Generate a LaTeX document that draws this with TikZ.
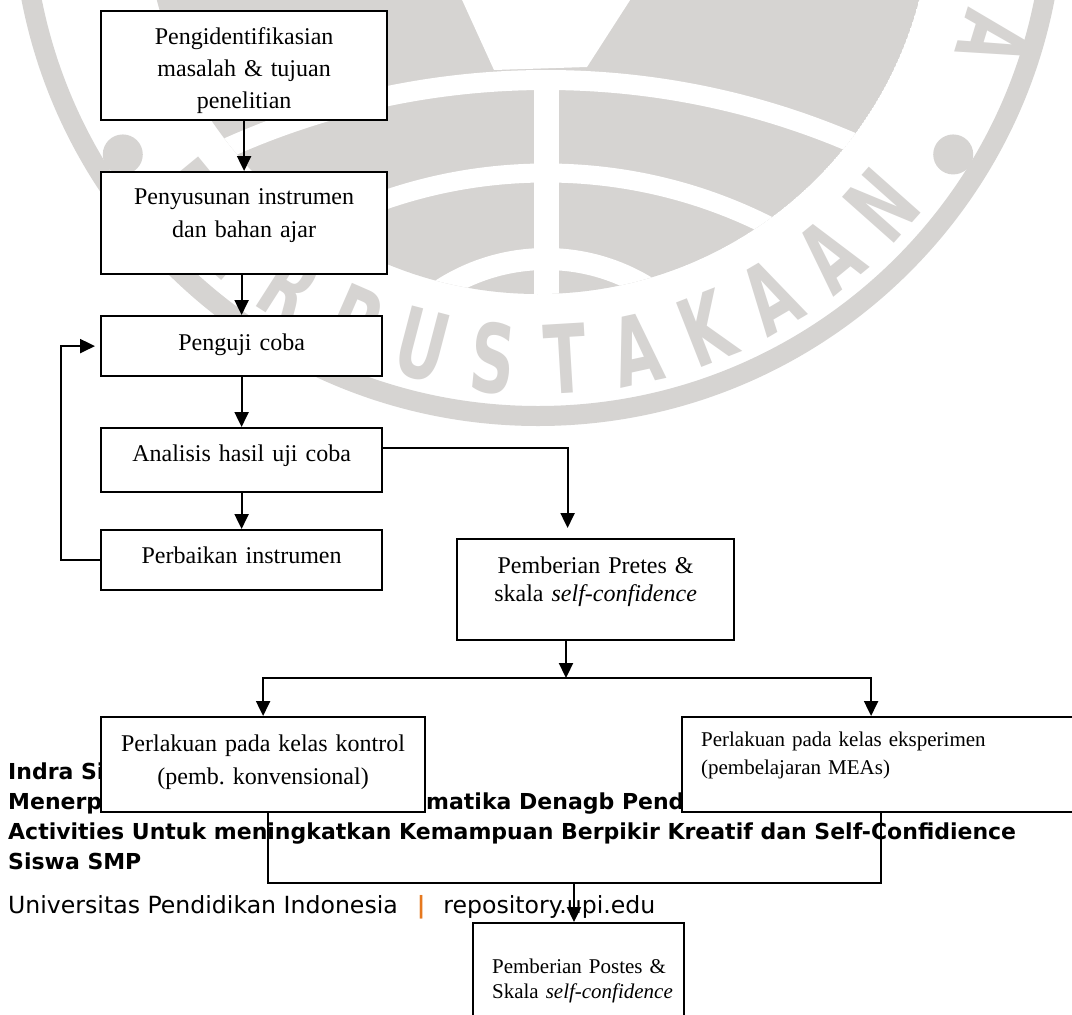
\documentclass[tikz,border=0pt]{standalone}
\usepackage{fontspec}
\setmainfont{Liberation Serif}
\newfontfamily\footfont{DejaVu Sans}
\newfontfamily\wmfont[FakeStretch=0.65]{DejaVu Sans}
\usetikzlibrary{positioning,calc,arrows.meta}
\definecolor{UpiOrange}{RGB}{230,120,30}
\definecolor{WmGray}{RGB}{214,212,210}
\tikzset{
  stepbox/.style={draw=black,fill=white,line width=2.2pt,inner sep=0pt,anchor=north west,
    align=center,font=\fontsize{24pt}{33pt}\selectfont},
  arr/.style={draw,line width=2.2pt,-{Triangle[length=15pt,width=14pt]}},
  link/.style={draw,line width=2.2pt},
  foot/.style={anchor=base west,inner sep=0pt,font=\footfont\bfseries\fontsize{22pt}{22pt}\selectfont},
  wmletter/.style={text=WmGray,inner sep=0pt,font=\wmfont\bfseries\fontsize{95pt}{95pt}\selectfont},
}

\begin{document}
\begin{tikzpicture}[x=1pt,y=-1pt]
\useasboundingbox (0,0) rectangle (1072,1015);
\fill[white] (0,0) rectangle (1072,1015);

% watermark of the library logo
\begin{scope}
  \clip (538,-100) circle[radius=394];
  \fill[WmGray] (538,-100) circle[radius=394];
  \fill[white] (453,-20) -- (494,70) -- (587,67) -- (643,-20) -- cycle;
  \draw[white,line width=20pt] (546,859) circle[radius=779];
  \draw[white,line width=19pt] (546,667) circle[radius=494];
  \draw[white,line width=22pt] (546,452) circle[radius=193];
  \fill[white] (534,80) rectangle (559,400);
\end{scope}
\draw[WmGray,line width=20pt] (538,-100) circle[radius=516];
\foreach \ch [count=\i from 0] in {P,E,R,P,U,S,T,A,K,A,A,N}{
  \pgfmathsetmacro\ang{140.6-9*\i}
  \node[wmletter,rotate=90-\ang] at ($(538,-100)+(\ang:460)$) {\ch};
}
\node[wmletter,rotate=-107] at ($(538,-100)+(17:478)$) {A};
\fill[WmGray] ($(538,-100)+(148.5:487)$) circle[radius=20];
\fill[WmGray] ($(538,-100)+(31.5:487)$) circle[radius=20];

% footer of the page
\node[foot] (nama) at (8,779) {Indra Si};
\node[foot] (judul) at (8,809) {Menerp};
\node[foot] (judulb) at (426,809) {matika Denagb Pend};
\node[foot] (judulc) at (8,839) {Activities Untuk meningkatkan Kemampuan Berpikir Kreatif dan Self-Confidience};
\node[foot] (judurd) at (8,869) {Siswa SMP};
\node[foot,font=\footfont\fontsize{23.6pt}{24pt}\selectfont] (univ) at (8,913)
  {Universitas Pendidikan Indonesia\hspace{19pt}\textcolor{UpiOrange}{\textbf{|}}\hspace{18pt}repository.upi.edu};

% steps
\node[stepbox,text width=286pt,text height=33pt,text depth=76pt,font=\fontsize{24pt}{32pt}\selectfont] (ident) at (100,10)
  {Pengidentifikasian\\ masalah \& tujuan\\ penelitian};
\node[stepbox,text width=286pt,text height=32pt,text depth=70pt] (susun) at (100,171)
  {Penyusunan instrumen\\ dan bahan ajar};
\node[stepbox,text width=281pt,text height=34pt,text depth=26pt] (uji) at (100,315) {Penguji coba};
\node[stepbox,text width=281pt,text height=33pt,text depth=31pt] (analisis) at (100,427) {Analisis hasil uji coba};
\node[stepbox,text width=281pt,text height=33pt,text depth=27pt] (perbaikan) at (100,529) {Perbaikan instrumen};
\node[stepbox,text width=277pt,text height=34pt,text depth=67pt,font=\fontsize{24pt}{28.5pt}\selectfont] (pretes) at (456,538)
  {Pemberian Pretes \&\\ skala \textit{self-confidence}};
\node[stepbox,text width=324pt,text height=34pt,text depth=61pt] (kontrol) at (100,716)
  {Perlakuan pada kelas kontrol\\ (pemb.\ konvensional)};
\node[stepbox,text width=414pt,text height=29pt,text depth=66pt,align=left,font=\fontsize{21pt}{28pt}\selectfont] (eksp) at (681,716)
  {\hspace*{19pt}Perlakuan pada kelas eksperimen\\ \hspace*{19pt}(pembelajaran MEAs)};
\node[stepbox,text width=211pt,text height=50pt,text depth=80pt,align=left,font=\fontsize{21pt}{25pt}\selectfont] (postes) at (472,922)
  {\hspace*{19pt}Pemberian Postes \&\\ \hspace*{19pt}Skala \textit{self-confidence}};

\coordinate (split) at (566,678);
\coordinate (merge) at (574,883);

% connectors
\draw[arr] (ident) -- (susun);
\draw[arr] (susun.south -| uji.north) -- (uji.north);
\draw[arr] (uji) -- (analisis);
\draw[arr] (analisis) -- (perbaikan);
\draw[arr,shorten >=5pt] (perbaikan.west) -- ++(-39,0) |- (uji.west);
\draw[arr,shorten >=10pt] ([yshift=12pt]analisis.east) -| ([xshift=-28pt]pretes.north);
\draw[arr] (split |- pretes.south) -- (split);
\draw[arr] (split) -| (kontrol.north);
\draw[arr] (split) -| ([xshift=-18pt]eksp.north);
\draw[link] ([xshift=5pt]kontrol.south) |- (merge) -| ([xshift=-8pt]eksp.south);
\draw[arr] (merge) -- (merge |- postes.north);
\end{tikzpicture}
\end{document}
